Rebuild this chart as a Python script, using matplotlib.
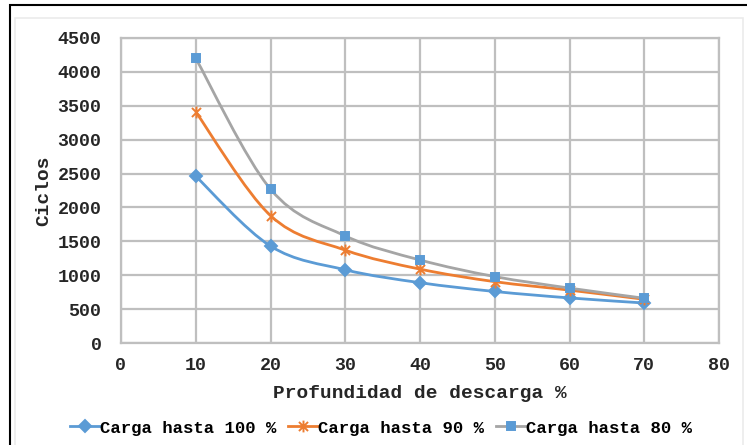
import matplotlib
matplotlib.use("Agg")
import matplotlib.pyplot as plt
from matplotlib.path import Path
from matplotlib.patches import PathPatch, Rectangle
from matplotlib.lines import Line2D

# Datos
profundidad = [10, 20, 30, 40, 50, 60, 70]
carga_100 = [2460, 1430, 1080, 890, 760, 665, 590]
carga_90 = [3410, 1880, 1370, 1090, 905, 780, 645]
carga_80 = [4200, 2270, 1580, 1225, 980, 810, 660]
etiquetas = ["Carga hasta 100 %", "Carga hasta 90 %", "Carga hasta 80 %"]

AZUL = "#5B9BD5"
NARANJA = "#ED7D31"
GRIS = "#A5A5A5"
GRID = "#BFBFBF"
FUENTE = "Liberation Mono"

# marcador tipo asterisco (x + linea vertical) como en Excel
asterisco = Path([(-1, -1), (1, 1), (-1, 1), (1, -1), (0, -1.3), (0, 1.3)],
                 [Path.MOVETO, Path.LINETO] * 3)


def curva_suave(x, y):
    """Curva de Bezier tipo Excel (Catmull-Rom) a traves de los puntos."""
    pts = list(zip(x, y))
    verts = [pts[0]]
    codes = [Path.MOVETO]
    n = len(pts)
    for i in range(n - 1):
        p0 = pts[i - 1] if i > 0 else pts[i]
        p1 = pts[i]
        p2 = pts[i + 1]
        p3 = pts[i + 2] if i + 2 < n else pts[i + 1]
        c1 = (p1[0] + (p2[0] - p0[0]) / 6, p1[1] + (p2[1] - p0[1]) / 6)
        c2 = (p2[0] - (p3[0] - p1[0]) / 6, p2[1] - (p3[1] - p1[1]) / 6)
        verts += [c1, c2, p2]
        codes += [Path.CURVE4] * 3
    return Path(verts, codes)


fig = plt.figure(figsize=(7.47, 4.45), dpi=100)
ax = fig.add_axes([121 / 747, 1 - 343 / 445, (719 - 121) / 747, (343 - 38) / 445])

# marco exterior
W, H = 747, 445
fig.patches.append(Rectangle((10 / W, -0.1), 1.2, (H - 5) / H + 0.1, transform=fig.transFigure,
                             fill=False, edgecolor="black", linewidth=1.5))
fig.patches.append(Rectangle((15 / W, -0.1), (743 - 15) / W, (H - 18) / H + 0.1,
                             transform=fig.transFigure, fill=False,
                             edgecolor="#EBEBEB", linewidth=1.2))

series = [
    (carga_100, AZUL, AZUL, "D", 6),
    (carga_90, NARANJA, NARANJA, asterisco, 8.5),
    (carga_80, GRIS, AZUL, "s", 5.5),
]

handles = []
for (valores, color, mcolor, marker, ms), lab in zip(series, etiquetas):
    ax.add_patch(PathPatch(curva_suave(profundidad, valores), fill=False,
                           edgecolor=color, linewidth=2.0, zorder=3))
    ax.plot(profundidad, valores, linestyle="none", marker=marker, markersize=ms,
            color=mcolor, markeredgecolor=mcolor, markeredgewidth=1.4, zorder=4)
    handles.append(Line2D([], [], color=color, linewidth=2.0, marker=marker, markersize=ms,
                          markerfacecolor=mcolor, markeredgecolor=mcolor,
                          markeredgewidth=1.4, label=lab))

ax.set_xlim(0, 80)
ax.set_ylim(0, 4500)
ax.set_xticks(range(0, 81, 10))
ax.set_yticks(range(0, 4501, 500))
ax.grid(True, color=GRID, linewidth=1.6)
ax.set_axisbelow(True)
for s in ax.spines.values():
    s.set_color(GRID)
    s.set_linewidth(1.6)
ax.tick_params(length=0, labelsize=13.2, labelcolor="#262626")
ax.tick_params(axis="x", pad=10)
ax.tick_params(axis="y", pad=14)
for t in ax.get_xticklabels() + ax.get_yticklabels():
    t.set_fontfamily(FUENTE)
    t.set_fontweight("bold")

ax.set_xlabel("Profundidad de descarga %", fontsize=14, fontweight="bold",
              fontfamily=FUENTE, color="#262626", labelpad=8)
ax.set_ylabel("Ciclos", fontsize=14, fontweight="bold", fontfamily=FUENTE,
              color="#262626", labelpad=4)

fig.legend(handles=handles, loc="center", bbox_to_anchor=(381 / W, 1 - 428 / H), ncol=3,
           frameon=False, handlelength=1.7, handletextpad=0.0, columnspacing=0.7,
           prop={"family": FUENTE, "weight": "bold", "size": 12.5})

fig.savefig("out.png", dpi=100, facecolor="white")
